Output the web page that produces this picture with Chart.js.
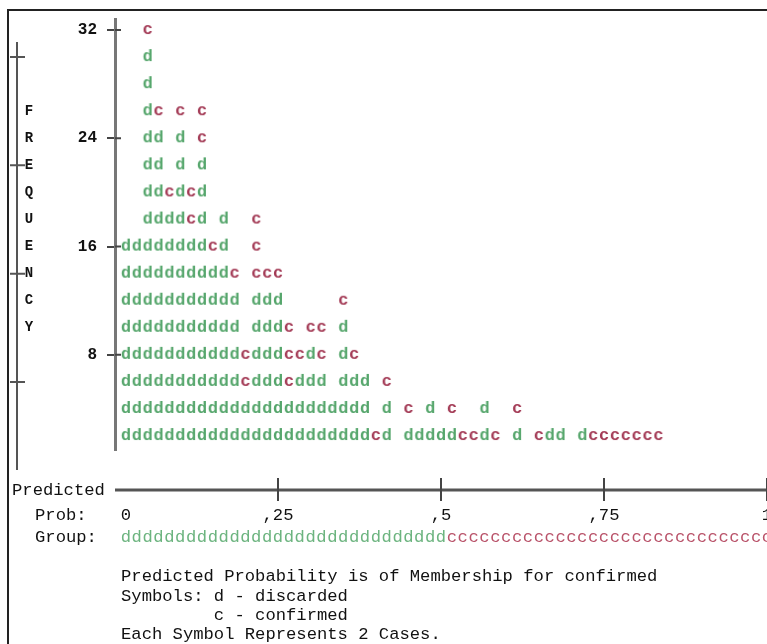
<!DOCTYPE html>
<html>
<head>
<meta charset="utf-8">
<script src="https://cdn.jsdelivr.net/npm/chart.js@4.4.1/dist/chart.umd.min.js"></script>
<style>
  body { margin: 0; background: #fff; }
  canvas { display: block; }
</style>
</head>
<body>
<canvas id="plot" width="767" height="644"></canvas>
<script>
// Classification plot: one string per row, from frequency 32 down to 2
// each character is one probability bin (60 bins between 0 and 1)
const rowFreq = [32, 30, 28, 26, 24, 22, 20, 18, 16, 14, 12, 10, 8, 6, 4, 2];
const rowSymbols = [
    "  c",
    "  d",
    "  d",
    "  dc c c",
    "  dd d c",
    "  dd d d",
    "  ddcdcd",
    "  ddddcd d  c",
    "ddddddddcd  c",
    "ddddddddddc ccc",
    "ddddddddddd ddd     c",
    "ddddddddddd dddc cc d",
    "dddddddddddcdddccdc dc",
    "dddddddddddcdddcddd ddd c",
    "ddddddddddddddddddddddd d c d c  d  c",
    "dddddddddddddddddddddddcd dddddccdc d cdd dccccccc"
];
const nBins = 60;
const cutValue = 0.5;

const yTicks = [8, 16, 24, 32];
const sideTicks = [30, 22, 14, 6];
const yLetters = ['F', 'R', 'E', 'Q', 'U', 'E', 'N', 'C', 'Y'];
const yLetterFreq = [26, 24, 22, 20, 18, 16, 14, 12, 10];

const probTicks = [0, 0.25, 0.5, 0.75, 1];
const probLabels = ['0', ',25', ',5', ',75', '1'];

const notes = [
    "Predicted Probability is of Membership for confirmed",
    "Symbols: d - discarded",
    "         c - confirmed",
    "Each Symbol Represents 2 Cases."
];

const GREEN = '#56a66c';
const RED = '#a33a55';
const MONO = '"Liberation Mono", "Courier New", monospace';

// points for each group
const discarded = [];
const confirmed = [];
rowSymbols.forEach((line, r) => {
    for (let i = 0; i < line.length; i++) {
        const p = { x: (i + 1) / nBins, y: rowFreq[r] };
        if (line[i] === 'd') discarded.push(p);
        if (line[i] === 'c') confirmed.push(p);
    }
});

// a letter drawn on a small canvas, used as point style
function glyph(ch, color) {
    const cv = document.createElement('canvas');
    cv.width = 14;
    cv.height = 22;
    const g = cv.getContext('2d');
    g.font = 'bold 17px ' + MONO;
    g.fillStyle = color;
    g.textAlign = 'center';
    g.textBaseline = 'alphabetic';
    g.fillText(ch, 7, 15);
    return cv;
}

// the text parts of the plot (side axis, x axis, group row, notes)
const extras = {
    id: 'extras',
    afterDraw(chart) {
        const ctx = chart.ctx;
        const xs = chart.scales.x;
        const ys = chart.scales.y;
        ctx.save();

        // outer frame
        ctx.strokeStyle = '#222';
        ctx.lineWidth = 2;
        ctx.beginPath();
        ctx.moveTo(8, 644);
        ctx.lineTo(8, 10);
        ctx.lineTo(767, 10);
        ctx.stroke();

        // y ticks cross the axis line a little
        ctx.strokeStyle = '#444';
        ctx.beginPath();
        yTicks.forEach(v => {
            const py = ys.getPixelForValue(v);
            ctx.moveTo(xs.left, py);
            ctx.lineTo(xs.left + 6, py);
        });
        ctx.stroke();

        // side line with its ticks
        ctx.strokeStyle = '#555';
        ctx.lineWidth = 2;
        ctx.beginPath();
        ctx.moveTo(17, 42);
        ctx.lineTo(17, 470);
        sideTicks.forEach(v => {
            const py = ys.getPixelForValue(v);
            ctx.moveTo(10, py);
            ctx.lineTo(25, py);
        });
        ctx.stroke();

        // FREQUENCY written downwards
        ctx.fillStyle = '#111';
        ctx.font = 'bold 14px ' + MONO;
        ctx.textAlign = 'center';
        ctx.textBaseline = 'middle';
        yLetters.forEach((ch, k) => {
            ctx.fillText(ch, 29, ys.getPixelForValue(yLetterFreq[k]));
        });

        // x axis
        const axisY = 490;
        ctx.strokeStyle = '#555';
        ctx.lineWidth = 3;
        ctx.beginPath();
        ctx.moveTo(xs.getPixelForValue(0), axisY);
        ctx.lineTo(767, axisY);
        ctx.stroke();
        ctx.lineWidth = 2;
        ctx.strokeStyle = '#444';
        ctx.beginPath();
        probTicks.slice(1).forEach(v => {
            const px = xs.getPixelForValue(v);
            ctx.moveTo(px, axisY - 12);
            ctx.lineTo(px, axisY + 11);
        });
        ctx.stroke();

        ctx.font = '17.2px ' + MONO;
        ctx.fillStyle = '#111';
        ctx.textAlign = 'left';
        ctx.fillText('Predicted', 12, axisY);
        ctx.fillText('Prob:', 35, 515);
        ctx.fillText('Group:', 35, 537);

        ctx.textAlign = 'center';
        probTicks.forEach((v, k) => {
            const px = xs.getPixelForValue(v) + (v === 0 ? 11 : 0);
            ctx.fillText(probLabels[k], px, 515);
        });

        // group row: d below the cut value, c above
        for (let i = 0; i < nBins; i++) {
            const isD = (i + 0.5) / nBins < cutValue;
            ctx.fillStyle = isD ? '#6cb47f' : '#b9536a';
            ctx.fillText(isD ? 'd' : 'c', xs.getPixelForValue((i + 1) / nBins), 537);
        }

        // notes below the plot
        ctx.fillStyle = '#111';
        ctx.textAlign = 'left';
        const noteY = [576, 596, 615, 634];
        notes.forEach((t, k) => ctx.fillText(t, 121, noteY[k]));

        ctx.restore();
    }
};

const chart = new Chart(document.getElementById('plot'), {
    type: 'scatter',
    data: {
        datasets: [
            {
                label: 'discarded',
                data: discarded,
                pointStyle: glyph('d', GREEN),
                pointRadius: 6
            },
            {
                label: 'confirmed',
                data: confirmed,
                pointStyle: glyph('c', RED),
                pointRadius: 6
            }
        ]
    },
    options: {
        responsive: false,
        animation: false,
        layout: {
            autoPadding: false,
            padding: { left: 0, right: 0, top: 12, bottom: 194 }
        },
        plugins: {
            legend: { display: false },
            tooltip: { enabled: false }
        },
        scales: {
            x: {
                type: 'linear',
                min: 0,
                max: 1,
                display: false
            },
            y: {
                type: 'linear',
                min: 0.97,
                max: 32.77,
                afterFit: (scale) => { scale.width = 115; },
                afterBuildTicks: (scale) => {
                    scale.ticks = yTicks.map(v => ({ value: v }));
                },
                border: { display: true, color: '#777', width: 3 },
                grid: {
                    drawOnChartArea: false,
                    drawTicks: true,
                    tickLength: 8,
                    color: '#444',
                    lineWidth: 2
                },
                ticks: {
                    padding: 10,
                    color: '#111',
                    font: { family: MONO, size: 16, weight: 'bold' }
                }
            }
        }
    },
    plugins: [extras]
});
</script>
</body>
</html>
